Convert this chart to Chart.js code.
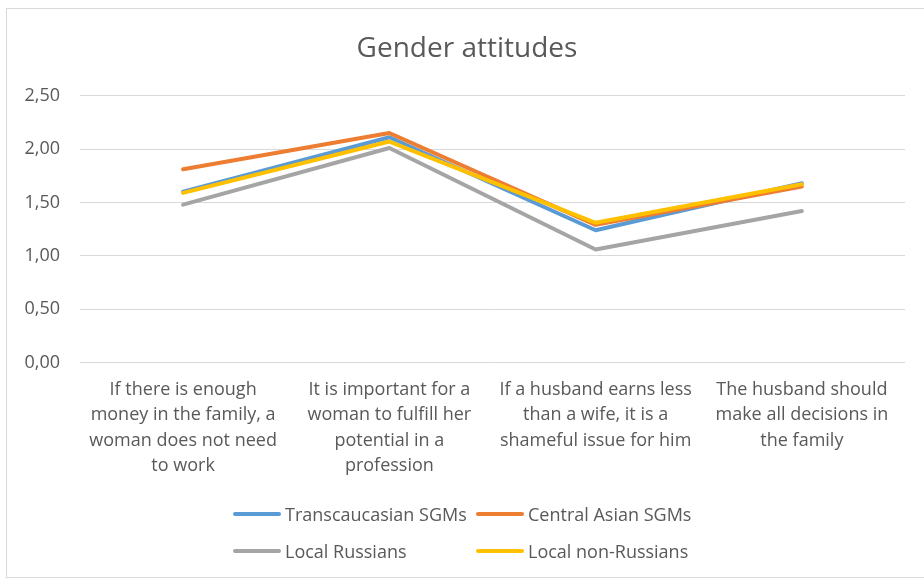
<!DOCTYPE html>
<html>
<head>
<meta charset="utf-8">
<script src="https://cdn.jsdelivr.net/npm/chart.js@4"></script>
<style>
  html, body { margin: 0; padding: 0; background: #fff; overflow: hidden; }
  #wrap { position: relative; width: 924px; height: 580px; overflow: hidden; font-family: "Open Sans", sans-serif; }
  #frame { position: absolute; left: 6px; top: 8px; width: 1000px; height: 570px; border: 1px solid #d9d9d9; border-right: none; box-sizing: border-box; }
  #box { position: absolute; left: 0; top: 0; width: 924px; height: 580px; }
  #legend { position: absolute; left: 233px; top: 502px; display: grid; grid-template-columns: 243px 240px; row-gap: 13px; }
  .item { display: flex; align-items: center; height: 24px; color: #595959; font-size: 18px; white-space: nowrap; }
  .swatch { width: 48px; height: 4px; margin-right: 4px; border-radius: 2px; }
</style>
</head>
<body>
<div id="wrap">
  <div id="frame"></div>
  <div id="box"><canvas id="chart"></canvas></div>
  <div id="legend"></div>
</div>
<script>
// categories (already wrapped like in the original)
const categories = [
  ["If there is enough", "money in the family, a", "woman does not need", "to work"],
  ["It is important for a", "woman to fulfill her", "potential in a", "profession"],
  ["If a husband earns less", "than a wife, it is a", "shameful issue for him"],
  ["The husband should", "make all decisions in", "the family"]
]
const seriesNames = ["Transcaucasian SGMs", "Central Asian SGMs", "Local Russians", "Local non-Russians"]
const seriesColors = ["#5b9bd5", "#ed7d31", "#a5a5a5", "#ffc000"]
const transcaucasian = [1.60, 2.11, 1.24, 1.68]
const centralAsian = [1.81, 2.15, 1.29, 1.65]
const localRussians = [1.48, 2.01, 1.06, 1.42]
const localNonRussians = [1.59, 2.07, 1.31, 1.67]
const yTicks = [0, 0.5, 1, 1.5, 2, 2.5]

const seriesValues = [transcaucasian, centralAsian, localRussians, localNonRussians]
const textColor = "#595959"
const gridColor = "#d9d9d9"
const fontFamily = "'Open Sans', sans-serif"

const datasets = seriesNames.map((name, i) => ({
  label: name,
  data: seriesValues[i],
  borderColor: seriesColors[i],
  backgroundColor: seriesColors[i],
  borderWidth: 4,
  pointRadius: 0,
  borderJoinStyle: "round",
  borderCapStyle: "round",
  tension: 0,
  // excel draws the last series on top
  order: seriesNames.length - 1 - i
}))

// y labels stick out left of the axis box, so widen the box used for clipping
const unclipY = {
  id: "unclipY",
  afterLayout(chart) { chart.scales.y.left = 0 }
}

new Chart(document.getElementById("chart"), {
  type: "line",
  data: { labels: categories, datasets: datasets },
  plugins: [unclipY],
  options: {
    responsive: true,
    maintainAspectRatio: false,
    animation: false,
    layout: { padding: { left: 29, right: 19, top: 0, bottom: 87 } },
    plugins: {
      legend: { display: false },
      tooltip: { enabled: false },
      title: {
        display: true,
        text: "Gender attitudes",
        color: textColor,
        font: { family: fontFamily, size: 28, weight: "normal", lineHeight: 1.2 },
        padding: { top: 32, bottom: 30 }
      }
    },
    scales: {
      x: {
        offset: true,
        grid: { display: false, drawTicks: false },
        border: { display: false },
        ticks: {
          color: textColor,
          font: { family: fontFamily, size: 18, lineHeight: 1.42 },
          maxRotation: 0,
          autoSkip: false,
          padding: 14
        }
      },
      y: {
        min: 0,
        max: 2.5,
        afterFit: (scale) => { scale.width = 51 },
        afterBuildTicks: (scale) => { scale.ticks = yTicks.map(v => ({ value: v })) },
        grid: { color: gridColor, drawTicks: false },
        border: { display: false },
        ticks: {
          color: textColor,
          font: { family: fontFamily, size: 18 },
          padding: 20,
          callback: (v) => Number(v).toFixed(2).replace(".", ",")
        }
      }
    }
  }
})

// legend laid out in two columns like the original
const legend = document.getElementById("legend")
seriesNames.forEach((name, i) => {
  const item = document.createElement("div")
  item.className = "item"
  item.innerHTML = '<span class="swatch" style="background:' + seriesColors[i] + '"></span>' + name
  legend.appendChild(item)
})
</script>
</body>
</html>
